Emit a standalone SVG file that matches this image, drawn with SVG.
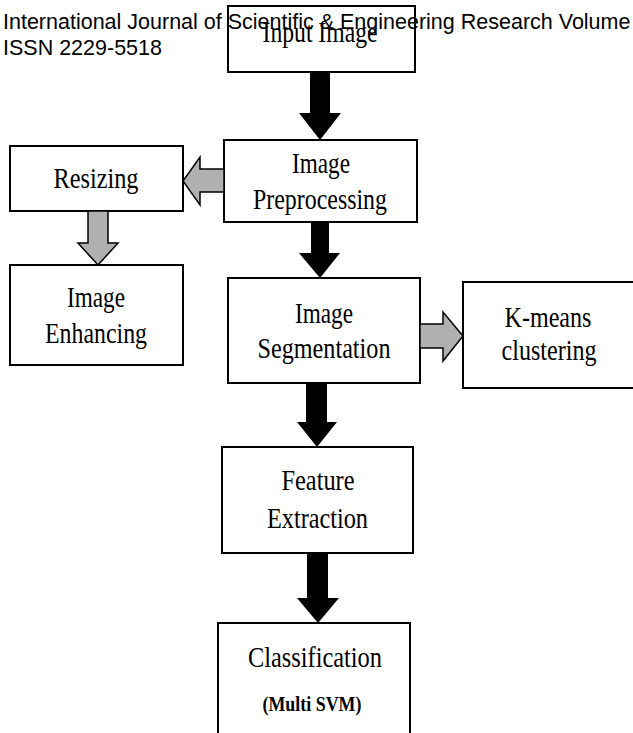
<svg xmlns="http://www.w3.org/2000/svg" width="633" height="733" viewBox="0 0 633 733">
<style>
  .box { fill: #ffffff; stroke: #000000; stroke-width: 2; }
  .lbl { font-family: "Liberation Serif", "Times New Roman", serif; font-size: 30px; fill: #000000; text-anchor: middle; }
  .sub { font-family: "Liberation Serif", "Times New Roman", serif; font-size: 20px; font-weight: bold; fill: #000000; text-anchor: middle; }
  .hdr { font-family: "Liberation Sans", Arial, sans-serif; font-size: 21.5px; fill: #000000; }
  .blk { fill: #000000; stroke: none; }
  .gry { fill: #b0b0b0; stroke: #000000; stroke-width: 1.5; stroke-linejoin: miter; }
</style>
<rect x="0" y="0" width="633" height="733" fill="#ffffff"/>

<g id="input-image">
  <rect class="box" x="228" y="6" width="187" height="66"/>
  <text class="lbl" x="320" y="42" textLength="115" lengthAdjust="spacingAndGlyphs">Input Image</text>
</g>

<g id="image-preprocessing">
  <rect class="box" x="224" y="140" width="193" height="82"/>
  <text class="lbl" x="321" y="173" textLength="58" lengthAdjust="spacingAndGlyphs">Image</text>
  <text class="lbl" x="320" y="209" textLength="134" lengthAdjust="spacingAndGlyphs">Preprocessing</text>
</g>

<g id="resizing">
  <rect class="box" x="10" y="146" width="173" height="65"/>
  <text class="lbl" x="96" y="188" textLength="85" lengthAdjust="spacingAndGlyphs">Resizing</text>
</g>

<g id="image-enhancing">
  <rect class="box" x="10" y="265" width="173" height="100"/>
  <text class="lbl" x="96" y="307" textLength="58" lengthAdjust="spacingAndGlyphs">Image</text>
  <text class="lbl" x="96" y="343" textLength="102" lengthAdjust="spacingAndGlyphs">Enhancing</text>
</g>

<g id="image-segmentation">
  <rect class="box" x="228" y="278" width="192" height="105"/>
  <text class="lbl" x="324" y="323" textLength="58" lengthAdjust="spacingAndGlyphs">Image</text>
  <text class="lbl" x="324" y="358" textLength="133" lengthAdjust="spacingAndGlyphs">Segmentation</text>
</g>

<g id="k-means-clustering">
  <rect class="box" x="463" y="282" width="180" height="106"/>
  <text class="lbl" x="548" y="327" textLength="87" lengthAdjust="spacingAndGlyphs">K-means</text>
  <text class="lbl" x="549" y="360" textLength="95" lengthAdjust="spacingAndGlyphs">clustering</text>
</g>

<g id="feature-extraction">
  <rect class="box" x="222" y="447" width="191" height="106"/>
  <text class="lbl" x="318" y="490" textLength="73" lengthAdjust="spacingAndGlyphs">Feature</text>
  <text class="lbl" x="317.5" y="528" textLength="101" lengthAdjust="spacingAndGlyphs">Extraction</text>
</g>

<g id="classification">
  <rect class="box" x="218" y="623" width="192" height="120"/>
  <text class="lbl" x="315" y="667" textLength="134" lengthAdjust="spacingAndGlyphs">Classification</text>
  <text class="sub" x="312" y="711" textLength="99" lengthAdjust="spacingAndGlyphs">(Multi SVM)</text>
</g>

<g id="connectors">
  <polygon class="blk" points="310,72 330,72 330,113 341,113 320,140 299,113 310,113"/>
  <polygon class="blk" points="311,222 329,222 329,253 340,253 320,278 299,253 311,253"/>
  <polygon class="blk" points="306,383 327,383 327,422 337,422 317,447 297,422 306,422"/>
  <polygon class="blk" points="307,553 328,553 328,598 339,598 318,623 297,598 307,598"/>
  <polygon class="gry" points="224,169 200,169 200,157 183,181 200,205 200,192 224,192"/>
  <polygon class="gry" points="88,211 108,211 108,243 118,243 98,265 78,243 88,243"/>
  <polygon class="gry" points="420,324 443,324 443,312 463,336 443,361 443,348 420,348"/>
</g>

<g id="header">
  <text class="hdr" x="3" y="29">International Journal of Scientific &amp; Engineering Research Volume</text>
  <text class="hdr" x="3" y="55">ISSN 2229-5518</text>
</g>
</svg>
